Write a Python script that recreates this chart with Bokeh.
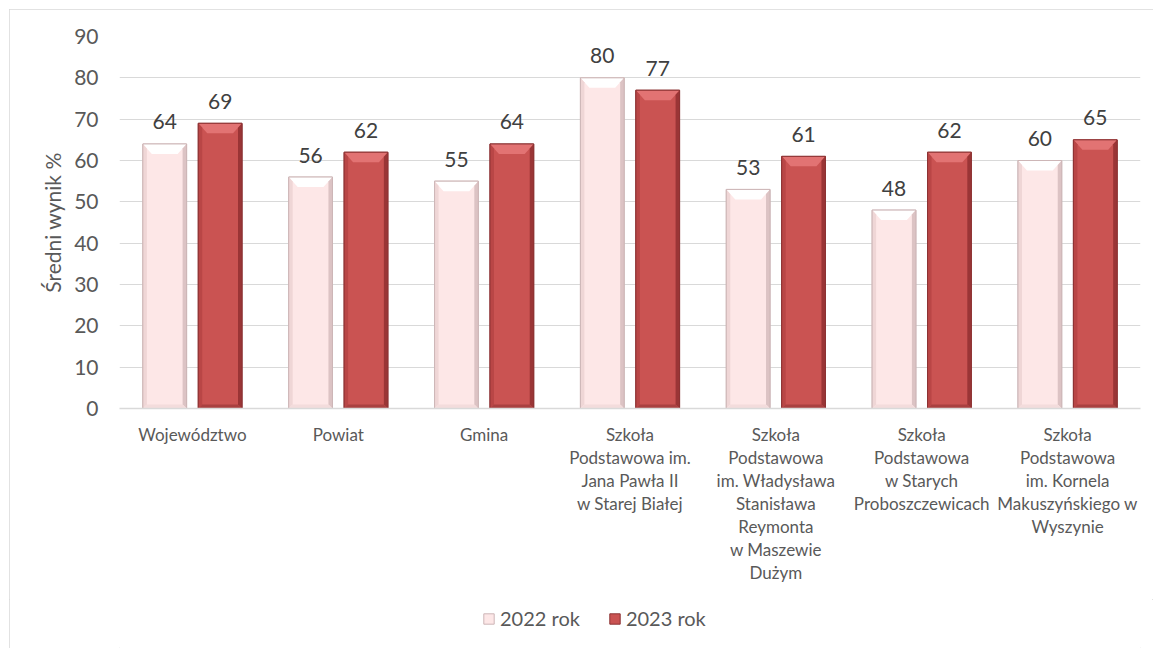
from bokeh.plotting import figure
from bokeh.models import (Range1d, FixedTicker, Legend, LegendItem,
                          ColumnDataSource, Spacer)
from bokeh.layouts import column, row
from bokeh.core.properties import value
from bokeh.embed import file_html
from bokeh.resources import INLINE

# ---- data ----
categories = [
    "Województwo",
    "Powiat",
    "Gmina",
    "Szkoła\nPodstawowa im.\nJana Pawła II\nw Starej Białej",
    "Szkoła\nPodstawowa\nim. Władysława\nStanisława\nReymonta\nw Maszewie\nDużym",
    "Szkoła\nPodstawowa\nw Starych\nProboszczewicach",
    "Szkoła\nPodstawowa\nim. Kornela\nMakuszyńskiego w\nWyszynie",
]
values_2022 = [64, 56, 55, 80, 53, 48, 60]
values_2023 = [69, 62, 64, 77, 61, 62, 65]
series_names = ["2022 rok", "2023 rok"]
y_ticks = [0, 10, 20, 30, 40, 50, 60, 70, 80, 90]

FONT = "Lato"
TXT = "#595959"

W, H = 1144, 590
ML, MR, MT, MB = 110, 13, 27, 191
frame_w = W - ML - MR
frame_h = H - MT - MB
n = len(categories)
px_x = n / frame_w          # data units per pixel (x)
px_y = 90.0 / frame_h       # data units per pixel (y)

p = figure(width=W, height=H, output_backend="svg", toolbar_location=None,
           x_range=Range1d(0, n), y_range=Range1d(0, 90),
           min_border_left=ML, min_border_right=MR, min_border_top=MT,
           min_border_bottom=MB, background_fill_color="white",
           border_fill_color="white")
p.outline_line_color = None

# grid
p.xgrid.grid_line_color = None
p.ygrid.grid_line_color = "#D9D9D9"
p.ygrid.grid_line_width = 1
p.yaxis.ticker = FixedTicker(ticks=y_ticks)

# x axis
centers = [i + 0.5 for i in range(n)]
p.xaxis.ticker = FixedTicker(ticks=centers)
p.xaxis.major_label_overrides = {c: lab for c, lab in zip(centers, categories)}
p.xaxis.axis_line_color = "#D9D9D9"
p.xaxis.axis_line_width = 1.5
p.xaxis.major_tick_line_color = None
p.xaxis.minor_tick_line_color = None
p.xaxis.major_tick_out = 0
p.xaxis.major_label_standoff = 15
p.xaxis.major_label_text_font = FONT
p.xaxis.major_label_text_font_size = "17px"
p.xaxis.major_label_text_color = TXT
p.xaxis.major_label_text_line_height = 1.1

# y axis
p.yaxis.axis_line_color = None
p.yaxis.major_tick_line_color = None
p.yaxis.minor_tick_line_color = None
p.yaxis.major_tick_out = 0
p.yaxis.major_label_standoff = 21
p.yaxis.major_label_text_font = FONT
p.yaxis.major_label_text_font_size = "21px"
p.yaxis.major_label_text_color = TXT
p.yaxis.axis_label = "Średni wynik %"
p.yaxis.axis_label_text_font = FONT
p.yaxis.axis_label_text_font_size = "21px"
p.yaxis.axis_label_text_font_style = "normal"
p.yaxis.axis_label_text_color = TXT
p.yaxis.axis_label_standoff = 6

# ---- bevelled bars ----
bar_w = 0.30
offsets = [-0.19, 0.19]
styles = [
    dict(body="#FDE7E7", top="#FFFFFF", left="#EFD6D6", right="#DCC3C4",
         bottom="#F3DCDC", line="#CDB6B7"),
    dict(body="#CA5352", top="#E27373", left="#B94646", right="#9A3536",
         bottom="#A94040", line="#8C3233"),
]
bev_t = 10 * px_y   # top bevel depth
bev_s = 9 * px_x    # top bevel inset
side = 4 * px_x     # side strip width
bot = 4 * px_y      # bottom strip height

for vals, off, st in zip([values_2022, values_2023], offsets, styles):
    x0s = [c + off - bar_w / 2 for c in centers]
    x1s = [c + off + bar_w / 2 for c in centers]
    p.quad(left=x0s, right=x1s, bottom=0, top=vals,
           fill_color=st["body"], line_color=st["line"], line_width=1)
    xs_t = [[a, b, b - bev_s, a + bev_s] for a, b in zip(x0s, x1s)]
    ys_t = [[v, v, v - bev_t, v - bev_t] for v in vals]
    p.patches(xs_t, ys_t, fill_color=st["top"], line_color=None)
    xs_l = [[a, a + side, a + side, a] for a in x0s]
    ys_l = [[0, bot, v - bev_t * 0.45, v] for v in vals]
    p.patches(xs_l, ys_l, fill_color=st["left"], line_color=None)
    xs_r = [[b, b - side, b - side, b] for b in x1s]
    p.patches(xs_r, ys_l, fill_color=st["right"], line_color=None)
    xs_b = [[a, b, b - side, a + side] for a, b in zip(x0s, x1s)]
    ys_b = [[0, 0, bot, bot] for _ in vals]
    p.patches(xs_b, ys_b, fill_color=st["bottom"], line_color=None)
    p.quad(left=x0s, right=x1s, bottom=0, top=vals,
           fill_color=None, line_color=st["line"], line_width=1)
    src = ColumnDataSource(dict(x=[c + off for c in centers], y=vals,
                                t=[str(v) for v in vals]))
    p.text(x="x", y="y", text="t", source=src, text_align="center",
           text_baseline="middle", y_offset=-22,
           text_font=value(FONT), text_font_size="21px", text_color="#404040")

# ---- legend strip (separate small figure below the chart) ----
LH = 49
pl = figure(width=W, height=LH, output_backend="svg", toolbar_location=None,
            x_range=Range1d(0, 1), y_range=Range1d(0, 1),
            min_border=0, background_fill_color="white",
            border_fill_color="white")
pl.axis.visible = False
pl.grid.visible = False
pl.outline_line_color = None
leg_r = []
for st in styles:
    # one off-screen swatch so that the legend has a glyph to draw
    leg_r.append(pl.quad(left=[5], right=[6], bottom=[5], top=[6],
                         fill_color=st["body"], line_color=st["line"],
                         line_width=1))
legend = Legend(items=[LegendItem(label=nm, renderers=[r])
                       for nm, r in zip(series_names, leg_r)],
                orientation="horizontal", location=(363, 18),
                background_fill_alpha=0, border_line_color=None,
                padding=0, margin=0, spacing=28, label_standoff=5,
                glyph_width=13, glyph_height=13,
                label_text_font=FONT, label_text_font_size="20px",
                label_text_color=TXT)
pl.add_layout(legend, "center")

inner = column(p, pl, spacing=0)
inner.styles = {"outline": "1px solid #D9D9D9", "outline-offset": "-1px"}
layout = column(Spacer(height=9), row(Spacer(width=9), inner, spacing=0),
                spacing=0)

open("out.html", "w").write(file_html(layout, INLINE))
